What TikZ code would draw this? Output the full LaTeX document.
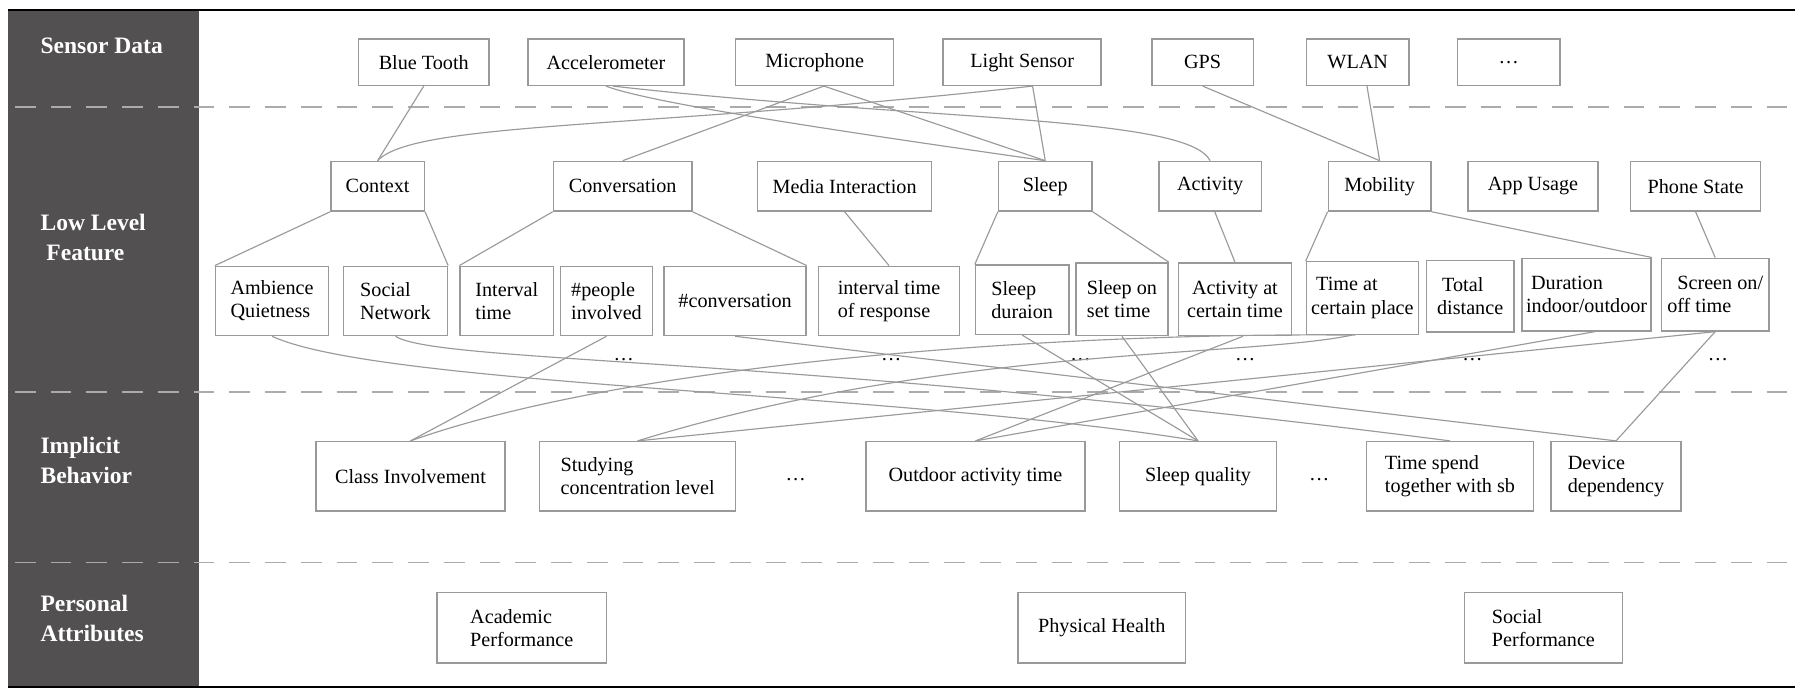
\documentclass[tikz,border=0pt]{standalone}
\usepackage{fontspec}
\setmainfont{Liberation Serif}
\usepackage{tikz}

\definecolor{panelgray}{HTML}{525051}
\definecolor{boxgray}{HTML}{999999}
\definecolor{linkgray}{HTML}{9A9A9A}
\definecolor{dashgray}{HTML}{ABABAB}

\begin{document}
\begin{tikzpicture}[x=1pt,y=-1pt,
	box/.style={draw=boxgray, line width=1.3pt, fill=white, inner sep=0pt, align=left, font=\fontsize{17.5}{20.2}\selectfont},
	link/.style={draw=linkgray, line width=1pt},
	layer/.style={draw=dashgray, line width=1.3pt, dash pattern=on 18pt off 13pt},
	title/.style={text=white, anchor=west, inner sep=0pt, align=left, font=\fontsize{20.4}{26}\selectfont\bfseries},
	more/.style={inner sep=0pt, font=\fontsize{17.5}{20.2}\selectfont}]
					\useasboundingbox (0,0) rectangle (1568,605);
					\fill[panelgray] (7,9) rectangle (173,596);
					\draw[layer] (13,93) -- (1553,93);
					\draw[layer] (13,340) -- (1553,340);
					\draw[layer] (13,488) -- (1553,488);
					\draw[line width=1.7pt] (7,9) -- (1557,9);
					\draw[line width=1.7pt] (7,596) -- (1557,596);

					\node[title] (lsensor) at (35,40) {Sensor Data};
					\node[title] (lfeature) at (35,206) {Low Level\\~Feature};
					\node[title] (lbehavior) at (35,399.5) {Implicit\\Behavior};
					\node[title] (lattr) at (35,536) {Personal\\Attributes};

					\node[box, minimum width=113, minimum height=40] (bt) at (367.5,54) {Blue Tooth};
					\node[box, minimum width=135, minimum height=40] (acc) at (525.5,54) {Accelerometer};
					\node[box, minimum width=137, minimum height=40] (mic) at (706.5,54) {Microphone};
					\node[box, minimum width=137, minimum height=40] (light) at (886.5,54) {Light Sensor};
					\node[box, minimum width=88, minimum height=40] (gps) at (1043,54) {GPS};
					\node[box, minimum width=89, minimum height=40] (wlan) at (1177.5,54) {WLAN};
					\node[box, minimum width=89, minimum height=40] (sdots) at (1308.5,54) {\ldots};

					\node[box, minimum width=81, minimum height=43] (ctx) at (327.5,161.5) {Context};
					\node[box, minimum width=120, minimum height=43] (conv) at (540,161.5) {Conversation};
					\node[box, minimum width=151, minimum height=43] (media) at (732.5,161.5) {Media Interaction};
					\node[box, minimum width=81, minimum height=43] (sleep) at (906.5,161.5) {Sleep};
					\node[box, minimum width=89, minimum height=43] (act) at (1049.5,161.5) {Activity};
					\node[box, minimum width=89, minimum height=43] (mob) at (1196.5,161.5) {Mobility};
					\node[box, minimum width=113, minimum height=43] (app) at (1329.5,161.5) {App Usage};
					\node[box, minimum width=113, minimum height=43] (phone) at (1470.5,161.5) {Phone State};

					\node[box, minimum width=98, minimum height=60] (amb) at (236,261) {Ambience\\Quietness};
					\node[box, minimum width=90, minimum height=60] (soc) at (343,261) {Social\\Network};
					\node[box, minimum width=81, minimum height=60] (ivt) at (439.5,261) {Interval\\time};
					\node[box, minimum width=80, minimum height=60] (ppl) at (526,261) {\#people\\involved};
					\node[box, minimum width=123, minimum height=60] (nconv) at (637.5,261) {\#conversation};
					\node[box, minimum width=122, minimum height=60] (resp) at (771,261) {interval time\\of response};
					\node[box, minimum width=81, minimum height=60] (sdur) at (886.5,260) {Sleep\\duraion};
					\node[box, minimum width=80, minimum height=63] (sset) at (973,259.5) {Sleep on\\set time};
					\node[box, minimum width=98, minimum height=63] (actt) at (1071,259.5) {~Activity at\\certain time};
					\node[box, minimum width=97, minimum height=63] (place) at (1181.5,258.5) {~Time at\\certain place};
					\node[box, minimum width=76, minimum height=62] (dist) at (1275,257) {~Total\\distance};
					\node[box, minimum width=112, minimum height=63] (dur) at (1376,255.5) {~Duration\\indoor/outdoor};
					\node[box, minimum width=93, minimum height=63] (scr) at (1487.5,255.5) {~~Screen on/\\off time};

					\node[more] (fd1) at (541,312) {\ldots};
					\node[more] (fd2) at (773,312) {\ldots};
					\node[more] (fd3) at (937,312) {\ldots};
					\node[more] (fd4) at (1080,312) {\ldots};
					\node[more] (fd5) at (1277,312) {\ldots};
					\node[more] (fd6) at (1490,312) {\ldots};

					\node[box, minimum width=164, minimum height=60] (cls) at (356,413) {Class Involvement};
					\node[box, minimum width=170, minimum height=60] (study) at (553,413) {Studying\\concentration level};
					\node[more] (bd1) at (690,416) {\ldots};
					\node[box, minimum width=190, minimum height=60] (out) at (846,413) {Outdoor activity time};
					\node[box, minimum width=136, minimum height=60] (sq) at (1039,413) {Sleep quality};
					\node[more] (bd2) at (1144,416) {\ldots};
					\node[box, minimum width=145, minimum height=60] (tsb) at (1257.5,413) {Time spend\\together with sb};
					\node[box, minimum width=113, minimum height=60] (dev) at (1401.5,413) {Device\\dependency};

					\node[box, minimum width=147, minimum height=61] (acad) at (452.5,544.5) {Academic\\Performance};
					\node[box, minimum width=145, minimum height=61] (phys) at (955.5,544.5) {Physical Health};
					\node[box, minimum width=137, minimum height=61] (socp) at (1338.5,544.5) {Social\\Performance};

					\draw[link] (bt.south) -- (ctx.north);
					\draw[link] (ctx.north) .. controls (360,105) and (560,112) .. ([xshift=9pt]light.south);
					\draw[link] (acc.south) .. controls (560,88) and (700,110) .. (sleep.north);
					\draw[link] ([xshift=6pt]acc.south) .. controls (800,105) and (1030,100) .. (act.north);
					\draw[link] ([xshift=8pt]mic.south) -- (conv.north);
					\draw[link] ([xshift=8pt]mic.south) -- (sleep.north);
					\draw[link] ([xshift=9pt]light.south) -- (sleep.north);
					\draw[link] (gps.south) -- (mob.north);
					\draw[link] ([xshift=8pt]wlan.south) -- (mob.north);

					\draw[link] (ctx.south west) -- (amb.north west);
					\draw[link] (ctx.south east) -- (soc.north east);
					\draw[link] (conv.south west) -- (ivt.north west);
					\draw[link] (conv.south east) -- (nconv.north east);
					\draw[link] (media.south) -- (resp.north);
					\draw[link] (sleep.south west) -- (sdur.north west);
					\draw[link] (sleep.south east) -- (sset.north east);
					\draw[link] ([xshift=4pt]act.south) -- (actt.north);
					\draw[link] (mob.south west) -- (place.north west);
					\draw[link] (mob.south east) -- (dur.north east);
					\draw[link] (phone.south) -- (scr.north);

					\draw[link] (ppl.south) -- (cls.north);
					\draw[link] ([xshift=-6pt]place.south) .. controls (950,288) and (560,310) .. (cls.north);
					\draw[link] ([xshift=-9pt]place.south) .. controls (1080,310) and (820,300) .. (study.north);
					\draw[link] (scr.south) -- (study.north);
					\draw[link] ([xshift=7pt]actt.south) -- (out.north);
					\draw[link] ([xshift=7pt]dur.south) -- (out.north);
					\draw[link] (amb.south) .. controls (330,335) and (780,340) .. (sq.north);
					\draw[link] (sdur.south) -- (sq.north);
					\draw[link] (sset.south) -- (sq.north);
					\draw[link] (soc.south) .. controls (380,315) and (680,308) .. (tsb.north);
					\draw[link] (nconv.south) -- (dev.north);
					\draw[link] (scr.south) -- (dev.north);
				\end{tikzpicture}
\end{document}
